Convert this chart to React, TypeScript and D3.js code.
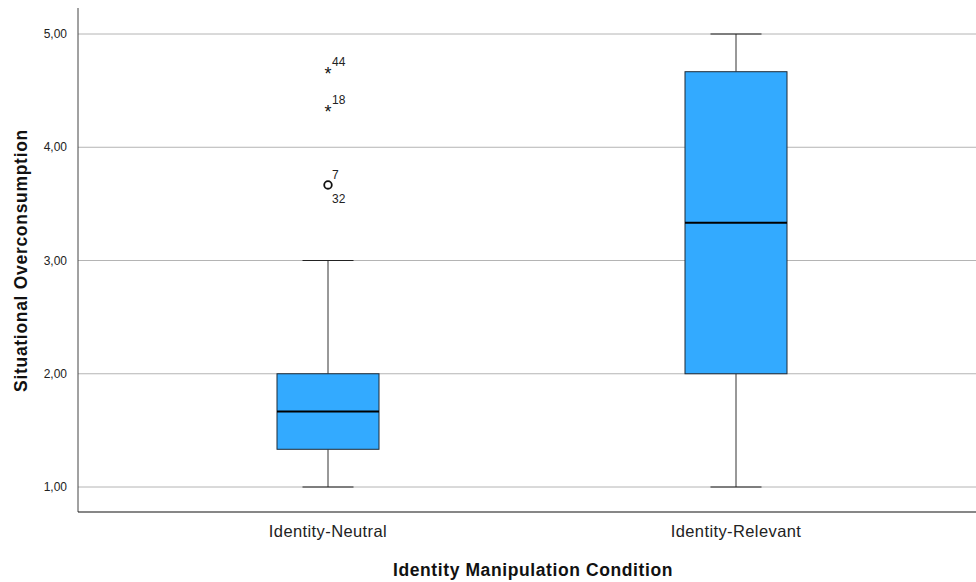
import React from "react";
import * as d3 from "d3";

const categories = ["Identity-Neutral", "Identity-Relevant"];
const whiskerLow = [1.0, 1.0];
const q1 = [1.333, 2.0];
const median = [1.667, 3.333];
const q3 = [2.0, 4.667];
const whiskerHigh = [3.0, 5.0];
const outlierGroup = ["Identity-Neutral", "Identity-Neutral", "Identity-Neutral", "Identity-Neutral"];
const outlierValues = [4.667, 4.333, 3.667, 3.667];
const outlierKinds = ["extreme", "extreme", "mild", "mild"];
const outlierLabels = ["44", "18", "7", "32"];
const yTicks = [1, 2, 3, 4, 5];

const W = 976;
const H = 582;

export default function App() {
  const y = d3.scaleLinear().domain([1, 5]).range([487, 34]);
  const x = d3.scaleBand().domain(categories).range([124, 940]);
  const step = x.step();
  const boxW = step * 0.25;
  const capW = boxW / 2;
  const fmt = (v: number) => d3.format(".2f")(v).replace(".", ",");
  const font = "'Liberation Sans', Arial, sans-serif";
  const boxes = categories.map((c, i) => ({ c, i, cx: (x(c) as number) + x.bandwidth() / 2 }));

  const outliers = outlierValues.map((v, i) => ({
    v,
    g: outlierGroup[i],
    kind: outlierKinds[i],
    label: outlierLabels[i],
    idx: outlierValues.slice(0, i).filter((w, j) => w === v && outlierGroup[j] === outlierGroup[i]).length,
  }));

  return (
    <svg width={W} height={H} style={{ position: "absolute", left: 0, top: 0, background: "#fff" }} fontFamily={font}>
      <rect x={0} y={0} width={W} height={H} fill="#fff" />
      {yTicks.map((t) => (
        <g key={t}>
          <line x1={78} x2={W} y1={y(t)} y2={y(t)} stroke="#b4b4b4" strokeWidth={1} />
          <text x={67} y={y(t)} dy="0.35em" textAnchor="end" fontSize={12} fill="#222">
            {fmt(t)}
          </text>
        </g>
      ))}
      {boxes.map(({ c, i, cx }) => (
        <g key={c}>
          <line x1={cx} x2={cx} y1={y(whiskerLow[i])} y2={y(q1[i])} stroke="#333" strokeWidth={1} />
          <line x1={cx} x2={cx} y1={y(q3[i])} y2={y(whiskerHigh[i])} stroke="#333" strokeWidth={1} />
          <line x1={cx - capW / 2} x2={cx + capW / 2} y1={y(whiskerLow[i])} y2={y(whiskerLow[i])} stroke="#222" strokeWidth={1} />
          <line x1={cx - capW / 2} x2={cx + capW / 2} y1={y(whiskerHigh[i])} y2={y(whiskerHigh[i])} stroke="#222" strokeWidth={1} />
          <rect x={cx - boxW / 2} y={y(q3[i])} width={boxW} height={y(q1[i]) - y(q3[i])} fill="#33aaff" stroke="#1f2a36" strokeWidth={1} />
          <line x1={cx - boxW / 2} x2={cx + boxW / 2} y1={y(median[i])} y2={y(median[i])} stroke="#000" strokeWidth={2} />
          <text x={cx} y={537} textAnchor="middle" fontSize={16.5} letterSpacing={0.4} fill="#222">
            {c}
          </text>
        </g>
      ))}
      {outliers.map((o, i) => {
        const cx = (x(o.g) as number) + x.bandwidth() / 2;
        const cy = y(o.v);
        return (
          <g key={i}>
            {o.kind === "mild" && o.idx === 0 && (
              <circle cx={cx} cy={cy} r={3.8} fill="none" stroke="#111" strokeWidth={1.8} />
            )}
            {o.kind === "extreme" && (
              <text x={cx} y={cy} dy="0.45em" textAnchor="middle" fontSize={18} fill="#111">
                *
              </text>
            )}
            <text x={cx + 4} y={o.idx === 0 ? cy - 6 : cy + 18} fontSize={12} fill="#222">
              {o.label}
            </text>
          </g>
        );
      })}
      <line x1={78} x2={78} y1={8} y2={512} stroke="#444" strokeWidth={1} />
      <line x1={78} x2={W} y1={512} y2={512} stroke="#111" strokeWidth={1.2} />
      <text x={533} y={576} textAnchor="middle" fontSize={17.5} letterSpacing={0.6} fontWeight="bold" fill="#111">
        Identity Manipulation Condition
      </text>
      <text transform={`translate(27,${(y(1) + y(5)) / 2}) rotate(-90)`} textAnchor="middle" fontSize={17.5} letterSpacing={0.7} fontWeight="bold" fill="#111">
        Situational Overconsumption
      </text>
    </svg>
  );
}
